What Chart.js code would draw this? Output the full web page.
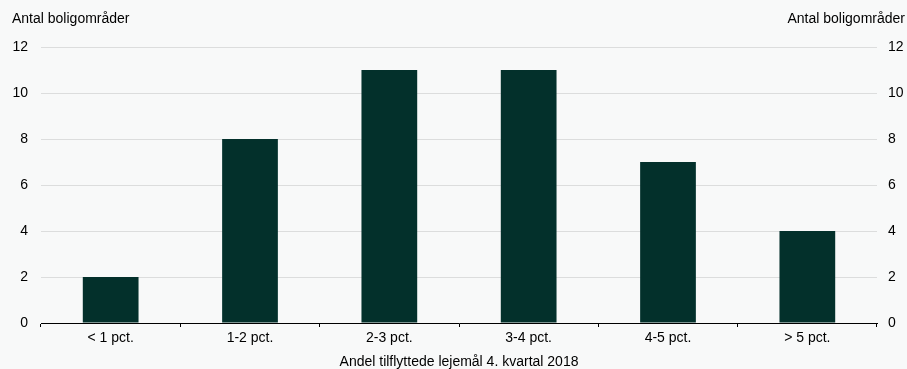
<!DOCTYPE html>
<html><head><meta charset="utf-8">
<script src="https://cdn.jsdelivr.net/npm/chart.js@4/dist/chart.umd.min.js"></script>
<style>html,body{margin:0;padding:0;background:#f8f9f9;}#wrap{width:907px;height:369px;}</style>
</head><body><div id="wrap"><canvas id="c" width="907" height="369"></canvas></div>
<script>
const categories = ["< 1 pct.", "1-2 pct.", "2-3 pct.", "3-4 pct.", "4-5 pct.", "> 5 pct."];
const values = [2, 8, 11, 11, 7, 4];
const yTitle = "Antal boligområder";
const xTitle = "Andel tilflyttede lejemål 4. kvartal 2018";
const yMin = 0, yMax = 12, yStep = 2;

const FONT = "'Liberation Sans', Arial, sans-serif";
const FS = 14;
Chart.defaults.font.family = FONT;
Chart.defaults.font.size = FS;
Chart.defaults.color = "#000";

const topTitles = {
  id: 'topTitles',
  beforeDraw(chart) {
    const ctx = chart.ctx;
    ctx.save();
    ctx.fillStyle = '#f8f9f9';
    ctx.fillRect(0, 0, chart.width, chart.height);
    ctx.restore();
  },
  afterDraw(chart) {
    const ctx = chart.ctx;
    ctx.save();
    ctx.font = FS + "px " + FONT;
    ctx.fillStyle = "#000";
    ctx.textBaseline = "middle";
    ctx.textAlign = "left";
    ctx.fillText(yTitle, 12, 19);
    ctx.textAlign = "right";
    ctx.fillText(yTitle, 905, 19);
    ctx.restore();
  }
};

new Chart(document.getElementById('c'), {
  type: 'bar',
  data: {
    labels: categories,
    datasets: [{
      data: values,
      backgroundColor: '#03302b',
      borderWidth: 0,
      barPercentage: 0.4,
      categoryPercentage: 1.0
    }]
  },
  options: {
    responsive: false,
    animation: false,
    layout: { padding: { top: 47, left: 0, right: 0, bottom: 0 } },
    plugins: { legend: { display: false }, tooltip: { enabled: false } },
    scales: {
      x: {
        grid: { offset: true, drawOnChartArea: false, drawTicks: true, tickLength: 4, color: '#000', lineWidth: 1 },
        border: { display: true, color: '#000', width: 1 },
        ticks: { padding: 3, color: '#000', maxRotation: 0 },
        title: { display: true, text: xTitle, color: '#000', padding: { top: 0, bottom: -2 } },
        afterFit(s) { s.height = 46; }
      },
      y: {
        position: 'left',
        min: yMin, max: yMax,
        ticks: { stepSize: yStep, padding: 13, color: '#000' },
        grid: { drawTicks: false, color: '#dcdddd', lineWidth: 1 },
        border: { display: false },
        afterFit(s) { s.width = 41; }
      },
      y2: {
        position: 'right',
        min: yMin, max: yMax,
        ticks: { stepSize: yStep, padding: 11, color: '#000' },
        grid: { drawOnChartArea: false, drawTicks: false },
        border: { display: false },
        afterFit(s) { s.width = 30; }
      }
    }
  },
  plugins: [topTitles]
});
</script>
</body></html>
